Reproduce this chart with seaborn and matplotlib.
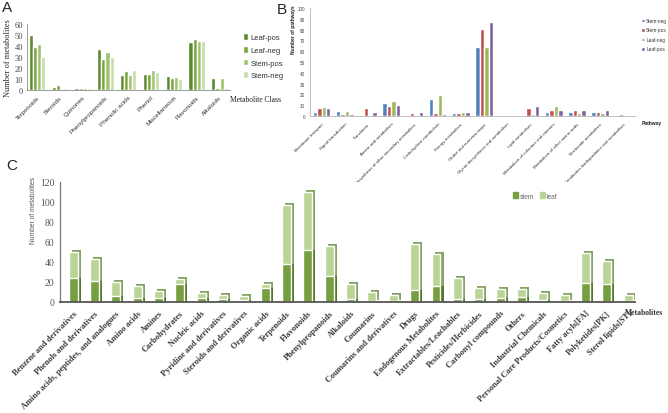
import matplotlib
matplotlib.use("Agg")
import matplotlib.pyplot as plt
import matplotlib.patheffects as pe
from matplotlib.patches import Patch
import numpy as np
import pandas as pd
import seaborn as sns

# ---- panel A: metabolite classes per sample
a_classes = ["Terpenoids", "Steroids", "Quinones", "Phenylpropanoids", "Phenolic acids",
             "Phenol", "Miscellaneous", "Flavonoids", "Alkaloids"]
a_series = ["Leaf-pos", "Leaf-neg", "Stem-pos", "Stem-neg"]
a_leaf_pos = [50, 3, 2, 37, 14, 15, 13, 44, 11]
a_leaf_neg = [39, 5, 2, 28, 17, 15, 11, 46, 2]
a_stem_pos = [42, 1, 2, 35, 14, 18, 12, 45, 11]
a_stem_neg = [30, 2, 2, 30, 18, 16, 10, 45, 2]
a_colors = ["#5b8a2c", "#78a53e", "#9dc46c", "#c7ddab"]

# ---- panel B: KEGG pathways
b_pathways = ["Membrane transport", "Signal transduction", "Translation", "Amino acid metabolism",
              "Biosynthesis of other secondary metabolites", "Carbohydrate metabolism",
              "Energy metabolism", "Global and overview maps", "Glycan biosynthesis and metabolism",
              "Lipid metabolism", "Metabolism of cofactors and vitamins",
              "Metabolism of other amino acids", "Nucleotide metabolism",
              "Xenobiotics biodegradation and metabolism"]
b_series = ["Stem-neg", "Stem-pos", "Leaf-neg", "Leaf-pos"]
b_stem_neg = [4, 5, 1, 12, 1, 16, 3, 64, 1, 1, 4, 4, 4, 1]
b_stem_pos = [7, 2, 7, 9, 3, 3, 3, 81, 0, 7, 6, 6, 4, 2]
b_leaf_neg = [8, 5, 1, 14, 1, 19, 4, 64, 0, 2, 9, 3, 3, 1]
b_leaf_pos = [7, 2, 4, 10, 4, 2, 4, 87, 0, 9, 6, 6, 6, 1]
b_colors = ["#4f81bd", "#c0504d", "#9bbb59", "#8064a2"]

# ---- panel C: stacked stem / leaf counts
c_classes = ["Benzene and derivatives", "Phenols and derivatives",
             "Amino acids, peptides, and analogues", "Amino acids", "Amines", "Carbohydrates",
             "Nucleic acids", "Pyridine and derivatives", "Steroids and derivatives",
             "Organic acids", "Terpenoids", "Flavonoids", "Phenylpropanoids", "Alkaloids",
             "Coumarins", "Coumarins and derivatives", "Drugs", "Endogenous Metabolites",
             "Extractables/Leachables", "Pesticides/Herbicides", "Carbonyl compounds", "Others",
             "Industrial Chemicals", "Personal Care Products/Cosmetics", "Fatty acyls[FA]",
             "Polyketides[PK]", "Sterol lipids[ST]"]
c_stem = [24, 21, 6, 4, 4, 18, 4, 3, 2, 14, 38, 52, 26, 3, 1, 1, 12, 16, 3, 3, 4, 5, 2, 1, 19, 18, 1]
c_leaf = [26, 22, 14, 12, 7, 5, 5, 4, 4, 4, 59, 58, 30, 15, 9, 6, 46, 32, 21, 11, 9, 8, 7, 6, 30, 23, 6]
c_stem_color = "#76a03f"
c_leaf_color = "#b9d495"

sns.set_style("white")
plt.rcParams["font.family"] = ["Liberation Sans", "DejaVu Sans"]
serif = ["Liberation Serif", "DejaVu Serif"]

W, H = 668, 414
fig = plt.figure(figsize=(6.68, 4.14), dpi=100)


def box(l, t, r, b):
    return [l / W, 1 - b / H, (r - l) / W, (b - t) / H]


# ---------------- A
ax_a = fig.add_axes(box(27, 25, 230, 91))
a_df = pd.DataFrame({
    "class": np.tile(a_classes, 4),
    "series": np.repeat(a_series, len(a_classes)),
    "count": np.concatenate([a_leaf_pos, a_leaf_neg, a_stem_pos, a_stem_neg]),
})
sns.barplot(data=a_df, x="class", y="count", hue="series", palette=a_colors,
            width=0.72, saturation=1, errorbar=None, ax=ax_a)
ax_a.set_xlim(-0.44, 8.46)
ax_a.set_ylim(0, 60)
ax_a.set_yticks(range(0, 61, 10))
ax_a.set_xlabel("")
ax_a.set_ylabel("Number of metabolites", family=serif, fontsize=6, labelpad=2)
for t in ax_a.get_yticklabels():
    t.set_family(serif)
ax_a.tick_params(axis="y", labelsize=6, length=2, width=0.5, colors="#444444", pad=1)
ax_a.tick_params(axis="x", labelsize=4.6, length=0, pad=3, colors="#333333")
plt.setp(ax_a.get_xticklabels(), rotation=45, ha="right", rotation_mode="anchor")
for s in ["top", "right"]:
    ax_a.spines[s].set_visible(False)
for s in ["left", "bottom"]:
    ax_a.spines[s].set_color("#8c8c8c")
    ax_a.spines[s].set_linewidth(0.6)
h, l = ax_a.get_legend_handles_labels()
ax_a.get_legend().remove()
fig.legend(h, l, loc="upper left", bbox_to_anchor=(243 / W, 1 - 34 / H), frameon=False,
           fontsize=5.5, handlelength=0.7, handleheight=1.0, handletextpad=0.3,
           labelspacing=0.62, borderaxespad=0, borderpad=0, labelcolor="#333333")
fig.text(230 / W, 1 - 100 / H, "Metabolite Class", family=serif, fontsize=5.5,
         va="center", ha="left", color="#222222")

# ---------------- B
ax_b = fig.add_axes(box(310, 9, 635, 117))
b_df = pd.DataFrame({
    "pathway": np.tile(b_pathways, 4),
    "series": np.repeat(b_series, len(b_pathways)),
    "count": np.concatenate([b_stem_neg, b_stem_pos, b_leaf_neg, b_leaf_pos]),
})
sns.barplot(data=b_df, x="pathway", y="count", hue="series", palette=b_colors,
            width=0.76, saturation=1, errorbar=None, ax=ax_b)
ax_b.set_xlim(-0.5, 13.5)
ax_b.set_ylim(0, 100)
ax_b.set_yticks(range(0, 101, 10))
ax_b.set_xlabel("")
ax_b.set_ylabel("")
ax_b.tick_params(axis="y", labelsize=3.3, length=1.5, width=0.4, colors="#444444", pad=2)
ax_b.tick_params(axis="x", labelsize=3.2, length=0, pad=4, colors="#333333")
plt.setp(ax_b.get_xticklabels(), rotation=45, ha="right", rotation_mode="anchor")
for s in ["top", "right"]:
    ax_b.spines[s].set_visible(False)
for s in ["left", "bottom"]:
    ax_b.spines[s].set_color("#b5b5b5")
    ax_b.spines[s].set_linewidth(0.6)
h, l = ax_b.get_legend_handles_labels()
ax_b.get_legend().remove()
fig.legend(h, l, loc="upper left", bbox_to_anchor=(641 / W, 1 - 19 / H), frameon=False,
           fontsize=3.4, handlelength=0.8, handleheight=0.8, handletextpad=0.3,
           labelspacing=0.95, borderaxespad=0, borderpad=0, labelcolor="#333333")
fig.text(293 / W, 1 - 30 / H, "Number of pathways", fontsize=3.5, fontweight="bold",
         rotation=90, ha="center", va="center", color="#222222")
fig.text(642 / W, 1 - 123 / H, "Pathway", fontsize=3.6, fontweight="bold",
         ha="left", va="center", color="#222222")

# ---------------- C
ax_c = fig.add_axes(box(60, 183, 635, 303))
c_total = np.array(c_stem) + np.array(c_leaf)
sns.barplot(x=c_classes, y=c_total, color=c_leaf_color, width=0.42, saturation=1,
            errorbar=None, ax=ax_c)
n_leaf = len(ax_c.patches)
sns.barplot(x=c_classes, y=c_stem, color=c_stem_color, width=0.42, saturation=1,
            errorbar=None, ax=ax_c)
for i, p in enumerate(ax_c.patches):
    if i < n_leaf:
        p.set_path_effects([pe.SimplePatchShadow(offset=(2.2, 1.7), shadow_rgbFace="#86a365",
                                                 alpha=1), pe.Normal()])
    else:
        p.set_path_effects([pe.SimplePatchShadow(offset=(2.2, 0), shadow_rgbFace="#56772c",
                                                 alpha=1), pe.Normal()])
ax_c.set_xlim(-0.61, 26.32)
ax_c.set_ylim(0, 120)
ax_c.set_yticks(range(0, 121, 20))
for t in ax_c.get_yticklabels():
    t.set_family(serif)
ax_c.tick_params(axis="y", labelsize=7, length=0, colors="#555555", pad=4)
ax_c.tick_params(axis="x", labelsize=6, length=0, pad=5, colors="#3a3a3a")
plt.setp(ax_c.get_xticklabels(), rotation=45, ha="right", rotation_mode="anchor",
         family=serif, fontweight="bold")
ax_c.set_ylabel("Number of metabolites", fontsize=4.8, color="#555555")
ax_c.yaxis.set_label_coords(-0.04, 0.77)
for s in ["top", "right"]:
    ax_c.spines[s].set_visible(False)
ax_c.spines["left"].set_color("#7a7a7a")
ax_c.spines["left"].set_linewidth(0.9)
ax_c.spines["bottom"].set_color("#555555")
ax_c.spines["bottom"].set_linewidth(1.3)
fig.legend([Patch(color=c_stem_color), Patch(color=c_leaf_color)], ["stem", "leaf"],
           loc="center left", bbox_to_anchor=(513 / W, 1 - 197 / H), ncol=2, frameon=False,
           fontsize=4.8, handlelength=0.7, handleheight=0.9, handletextpad=0.3,
           columnspacing=0.9, borderaxespad=0, borderpad=0, labelcolor="#666666")
fig.text(625 / W, 1 - 313 / H, "Metabolites", family=serif, fontsize=5.5,
         fontweight="bold", ha="left", va="center", color="#333333")

# panel letters
fig.text(2 / W, 1 - 1 / H, "A", fontsize=11, va="top", ha="left")
fig.text(277 / W, 1 - 3 / H, "B", fontsize=11, va="top", ha="left")
fig.text(6 / W, 1 - 159 / H, "C", fontsize=11, va="top", ha="left")

fig.savefig("out.png", dpi=100)
